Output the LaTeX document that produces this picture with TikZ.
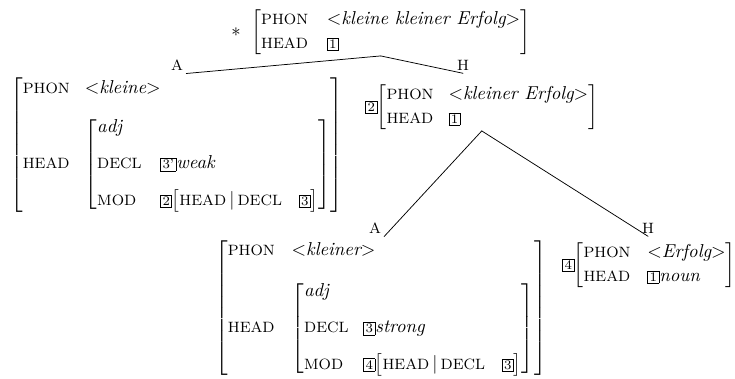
\documentclass[tikz,border=0pt]{standalone}
\newcommand{\ft}[1]{\mbox{\footnotesize #1}}
\newcommand{\val}[1]{\textit{#1}}
\newcommand{\tg}[1]{\mbox{\fboxsep=0.8pt\fboxrule=0.4pt\fbox{\scriptsize #1}}}
\renewcommand{\arraystretch}{1.05}
\begin{document}
\begin{tikzpicture}[x=0.5348pt, y=-0.5348pt, line join=round, line cap=round,
	avm/.style={inner sep=0pt, anchor=west},
	lbl/.style={font=\footnotesize, inner sep=1.5pt}]
	\useasboundingbox (0,0) rectangle (735,379);
	% mother
	\path (231,32) node[avm] (mother) {$\ast\hspace{4pt}\left[\begin{array}{@{}l@{\hspace{10pt}}l@{}}
				\ft{PHON} & {<}\val{kleine kleiner Erfolg}{>}\\
				\ft{HEAD} & \tg{1}
			\end{array}\right]$};
	% adjunct daughter
	\path (10,145) node[avm] (adjdtr) {$\left[\begin{array}{@{}l@{\hspace{8pt}}l@{}}
				\ft{PHON} & {<}\val{kleine}{>}\\[8pt]
				\ft{HEAD} & \left[\begin{array}{@{}l@{\hspace{10pt}}l@{}}
					\val{adj} & \\[7pt]
					\ft{DECL} & \tg{3'}\val{weak}\\[7pt]
					\ft{MOD} & \tg{2}\hspace{-2pt}\left[\begin{array}{@{}l@{\hspace{9pt}}l@{}}\ft{HEAD}\,|\,\ft{DECL} & \tg{3}\end{array}\right]
				\end{array}\right]
			\end{array}\right]$};
	% head daughter
	\path (365,107) node[avm] (hd) {$\tg{2}\hspace{-2pt}\left[\begin{array}{@{}l@{\hspace{8pt}}l@{}}
				\ft{PHON} & {<}\val{kleiner Erfolg}{>}\\
				\ft{HEAD} & \tg{1}
			\end{array}\right]$};
	% adjective
	\path (215,308) node[avm] (adjective) {$\left[\begin{array}{@{}l@{\hspace{9pt}}l@{}}
				\ft{PHON} & {<}\val{kleiner}{>}\\[9pt]
				\ft{HEAD} & \left[\begin{array}{@{}l@{\hspace{8pt}}l@{}}
					\val{adj} & \\[7pt]
					\ft{DECL} & \tg{3}\val{strong}\\[7pt]
					\ft{MOD} & \tg{4}\hspace{-2pt}\left[\begin{array}{@{}l@{\hspace{9pt}}l@{}}\ft{HEAD}\,|\,\ft{DECL} & \tg{3}\end{array}\right]
				\end{array}\right]
			\end{array}\right]$};
	% noun
	\path (562,265) node[avm] (noun) {$\tg{4}\hspace{-2pt}\left[\begin{array}{@{}l@{\hspace{9pt}}l@{}}
				\ft{PHON} & {<}\val{Erfolg}{>}\\
				\ft{HEAD} & \tg{1}\val{noun}
			\end{array}\right]$};
	% branch labels
	\node[lbl] (a1) at (177,65) {A};
	\node[lbl] (h1) at (463,65) {H};
	\node[lbl] (a2) at (375,228) {A};
	\node[lbl] (h2) at (648,228) {H};
	\draw (mother.south) -- (a1.south east);
	\draw (mother.south) -- (h1.south);
	\draw (hd.south) -- (a2.south east);
	\draw (hd.south) -- (h2.south);
\end{tikzpicture}
\end{document}
